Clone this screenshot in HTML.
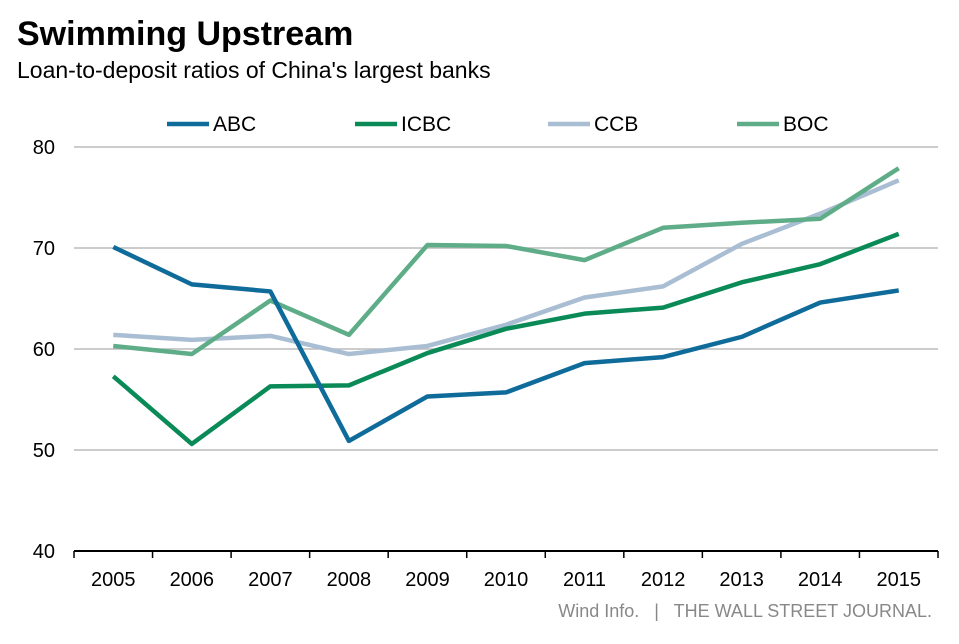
<!DOCTYPE html>
<html><head><meta charset="utf-8"><style>
body{margin:0;background:#fff;width:959px;height:639px;overflow:hidden;font-family:"Liberation Sans",Arial,sans-serif}
</style></head><body>
<svg width="959" height="639" xmlns="http://www.w3.org/2000/svg" font-family="Liberation Sans, Arial, sans-serif">
<text x="17" y="45" font-size="34" font-weight="bold" fill="#000">Swimming Upstream</text>
<text x="17" y="78" font-size="23" fill="#000">Loan-to-deposit ratios of China's largest banks</text>
<g id="grid"></g>
<g id="axes"></g>
<g id="series"></g>
<g id="legend"></g>
<text x="932" y="617" font-size="18" fill="#888" text-anchor="end" style="white-space:pre">Wind Info.   |   THE WALL STREET JOURNAL.</text>
</svg>
<script>
const years=["2005","2006","2007","2008","2009","2010","2011","2012","2013","2014","2015"];
const yTicks=[40,50,60,70,80];
const abc=[70.1,66.4,65.7,50.9,55.3,55.7,58.6,59.2,61.2,64.6,65.8];
const icbc=[57.3,50.6,56.3,56.4,59.6,62.0,63.5,64.1,66.6,68.4,71.4];
const ccb=[61.4,60.9,61.3,59.5,60.3,62.4,65.1,66.2,70.4,73.4,76.7];
const boc=[60.3,59.5,64.8,61.4,70.3,70.2,68.8,72.0,72.5,72.9,77.9];
const seriesNames=["ABC","ICBC","CCB","BOC"];
const NS="http://www.w3.org/2000/svg";
const X0=74,X1=938,step=(X1-X0)/years.length;
function x(i){return X0+step*(i+0.5);}
function y(v){return 551-(v-40)*10.1;}
function mk(t,a,p){const e=document.createElementNS(NS,t);for(const k in a)e.setAttribute(k,a[k]);p.appendChild(e);return e;}
const grid=document.getElementById('grid'),axes=document.getElementById('axes'),ser=document.getElementById('series'),leg=document.getElementById('legend');
yTicks.forEach(v=>{
  if(v>40){const l=mk('line',{x1:X0,x2:X1,y1:y(v),y2:y(v),stroke:'#bbb','stroke-width':1.5},grid);
  
  }
  const t=mk('text',{x:55,y:y(v)+7,'font-size':20,'text-anchor':'end',fill:'#000'},axes);t.textContent=v;
  
  
});
const ax=mk('line',{x1:X0,x2:X1,y1:551,y2:551,stroke:'#000','stroke-width':2},axes);


for(let i=0;i<=years.length;i++){const tk=mk('line',{x1:X0+step*i,x2:X0+step*i,y1:551,y2:558,stroke:'#000','stroke-width':1.5},axes);

}
years.forEach((yr,i)=>{const t=mk('text',{x:x(i),y:586,'font-size':20,'text-anchor':'middle',fill:'#000'},axes);t.textContent=yr;

});
const data=[abc,icbc,ccb,boc];
const colors=["#0f6b9a","#0a8a57","#a9bed3","#5fad88"];
const order=[2,3,1,0];
order.forEach(k=>{const p=mk('polyline',{points:data[k].map((v,i)=>x(i)+','+y(v)).join(' '),fill:'none',stroke:colors[k],'stroke-width':4.5,'stroke-linejoin':'round'},ser);

});
const lx=[167,355,548,737];
seriesNames.forEach((n,k)=>{const l=mk('line',{x1:lx[k],x2:lx[k]+42,y1:124,y2:124,stroke:colors[k],'stroke-width':4.5},leg);


const t=mk('text',{x:lx[k]+46,y:131,'font-size':21,fill:'#000'},leg);t.textContent=n;

});
</script>
</body></html>
